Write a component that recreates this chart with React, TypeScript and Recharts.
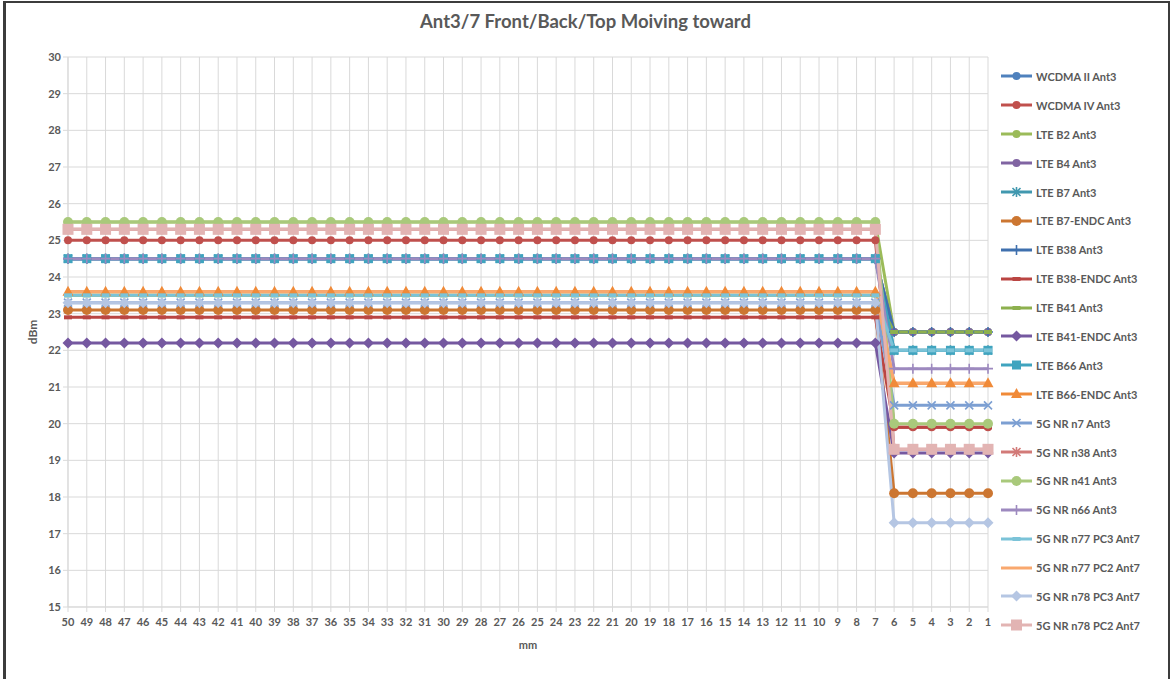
import { LineChart, Line, XAxis, YAxis, CartesianGrid } from "recharts";

const categories = [
  "50", "49", "48", "47", "46", "45", "44", "43", "42", "41", "40", "39", "38", "37", "36", "35", "34",
  "33", "32", "31", "30", "29", "28", "27", "26", "25", "24", "23", "22", "21", "20", "19", "18", "17",
  "16", "15", "14", "13", "12", "11", "10", "9", "8", "7", "6", "5", "4", "3", "2", "1",
];
const yTicks = [15, 16, 17, 18, 19, 20, 21, 22, 23, 24, 25, 26, 27, 28, 29, 30];

// values per mm position, 50 -> 1
const wcdmaII = [24.5, 24.5, 24.5, 24.5, 24.5, 24.5, 24.5, 24.5, 24.5, 24.5, 24.5, 24.5, 24.5, 24.5, 24.5, 24.5, 24.5, 24.5, 24.5, 24.5, 24.5, 24.5, 24.5, 24.5, 24.5, 24.5, 24.5, 24.5, 24.5, 24.5, 24.5, 24.5, 24.5, 24.5, 24.5, 24.5, 24.5, 24.5, 24.5, 24.5, 24.5, 24.5, 24.5, 24.5, 22.5, 22.5, 22.5, 22.5, 22.5, 22.5];
const wcdmaIV = [25, 25, 25, 25, 25, 25, 25, 25, 25, 25, 25, 25, 25, 25, 25, 25, 25, 25, 25, 25, 25, 25, 25, 25, 25, 25, 25, 25, 25, 25, 25, 25, 25, 25, 25, 25, 25, 25, 25, 25, 25, 25, 25, 25, 19.9, 19.9, 19.9, 19.9, 19.9, 19.9];
const lteB2 = [25.5, 25.5, 25.5, 25.5, 25.5, 25.5, 25.5, 25.5, 25.5, 25.5, 25.5, 25.5, 25.5, 25.5, 25.5, 25.5, 25.5, 25.5, 25.5, 25.5, 25.5, 25.5, 25.5, 25.5, 25.5, 25.5, 25.5, 25.5, 25.5, 25.5, 25.5, 25.5, 25.5, 25.5, 25.5, 25.5, 25.5, 25.5, 25.5, 25.5, 25.5, 25.5, 25.5, 25.5, 22.5, 22.5, 22.5, 22.5, 22.5, 22.5];
const lteB4 = [24.5, 24.5, 24.5, 24.5, 24.5, 24.5, 24.5, 24.5, 24.5, 24.5, 24.5, 24.5, 24.5, 24.5, 24.5, 24.5, 24.5, 24.5, 24.5, 24.5, 24.5, 24.5, 24.5, 24.5, 24.5, 24.5, 24.5, 24.5, 24.5, 24.5, 24.5, 24.5, 24.5, 24.5, 24.5, 24.5, 24.5, 24.5, 24.5, 24.5, 24.5, 24.5, 24.5, 24.5, 22.5, 22.5, 22.5, 22.5, 22.5, 22.5];
const lteB7 = [24.5, 24.5, 24.5, 24.5, 24.5, 24.5, 24.5, 24.5, 24.5, 24.5, 24.5, 24.5, 24.5, 24.5, 24.5, 24.5, 24.5, 24.5, 24.5, 24.5, 24.5, 24.5, 24.5, 24.5, 24.5, 24.5, 24.5, 24.5, 24.5, 24.5, 24.5, 24.5, 24.5, 24.5, 24.5, 24.5, 24.5, 24.5, 24.5, 24.5, 24.5, 24.5, 24.5, 24.5, 22, 22, 22, 22, 22, 22];
const lteB7Endc = [23.1, 23.1, 23.1, 23.1, 23.1, 23.1, 23.1, 23.1, 23.1, 23.1, 23.1, 23.1, 23.1, 23.1, 23.1, 23.1, 23.1, 23.1, 23.1, 23.1, 23.1, 23.1, 23.1, 23.1, 23.1, 23.1, 23.1, 23.1, 23.1, 23.1, 23.1, 23.1, 23.1, 23.1, 23.1, 23.1, 23.1, 23.1, 23.1, 23.1, 23.1, 23.1, 23.1, 23.1, 18.1, 18.1, 18.1, 18.1, 18.1, 18.1];
const lteB38 = [24.5, 24.5, 24.5, 24.5, 24.5, 24.5, 24.5, 24.5, 24.5, 24.5, 24.5, 24.5, 24.5, 24.5, 24.5, 24.5, 24.5, 24.5, 24.5, 24.5, 24.5, 24.5, 24.5, 24.5, 24.5, 24.5, 24.5, 24.5, 24.5, 24.5, 24.5, 24.5, 24.5, 24.5, 24.5, 24.5, 24.5, 24.5, 24.5, 24.5, 24.5, 24.5, 24.5, 24.5, 22.5, 22.5, 22.5, 22.5, 22.5, 22.5];
const lteB38Endc = [22.9, 22.9, 22.9, 22.9, 22.9, 22.9, 22.9, 22.9, 22.9, 22.9, 22.9, 22.9, 22.9, 22.9, 22.9, 22.9, 22.9, 22.9, 22.9, 22.9, 22.9, 22.9, 22.9, 22.9, 22.9, 22.9, 22.9, 22.9, 22.9, 22.9, 22.9, 22.9, 22.9, 22.9, 22.9, 22.9, 22.9, 22.9, 22.9, 22.9, 22.9, 22.9, 22.9, 22.9, 19.9, 19.9, 19.9, 19.9, 19.9, 19.9];
const lteB41 = [23.5, 23.5, 23.5, 23.5, 23.5, 23.5, 23.5, 23.5, 23.5, 23.5, 23.5, 23.5, 23.5, 23.5, 23.5, 23.5, 23.5, 23.5, 23.5, 23.5, 23.5, 23.5, 23.5, 23.5, 23.5, 23.5, 23.5, 23.5, 23.5, 23.5, 23.5, 23.5, 23.5, 23.5, 23.5, 23.5, 23.5, 23.5, 23.5, 23.5, 23.5, 23.5, 23.5, 23.5, 22.5, 22.5, 22.5, 22.5, 22.5, 22.5];
const lteB41Endc = [22.2, 22.2, 22.2, 22.2, 22.2, 22.2, 22.2, 22.2, 22.2, 22.2, 22.2, 22.2, 22.2, 22.2, 22.2, 22.2, 22.2, 22.2, 22.2, 22.2, 22.2, 22.2, 22.2, 22.2, 22.2, 22.2, 22.2, 22.2, 22.2, 22.2, 22.2, 22.2, 22.2, 22.2, 22.2, 22.2, 22.2, 22.2, 22.2, 22.2, 22.2, 22.2, 22.2, 22.2, 19.2, 19.2, 19.2, 19.2, 19.2, 19.2];
const lteB66 = [24.5, 24.5, 24.5, 24.5, 24.5, 24.5, 24.5, 24.5, 24.5, 24.5, 24.5, 24.5, 24.5, 24.5, 24.5, 24.5, 24.5, 24.5, 24.5, 24.5, 24.5, 24.5, 24.5, 24.5, 24.5, 24.5, 24.5, 24.5, 24.5, 24.5, 24.5, 24.5, 24.5, 24.5, 24.5, 24.5, 24.5, 24.5, 24.5, 24.5, 24.5, 24.5, 24.5, 24.5, 22, 22, 22, 22, 22, 22];
const lteB66Endc = [23.6, 23.6, 23.6, 23.6, 23.6, 23.6, 23.6, 23.6, 23.6, 23.6, 23.6, 23.6, 23.6, 23.6, 23.6, 23.6, 23.6, 23.6, 23.6, 23.6, 23.6, 23.6, 23.6, 23.6, 23.6, 23.6, 23.6, 23.6, 23.6, 23.6, 23.6, 23.6, 23.6, 23.6, 23.6, 23.6, 23.6, 23.6, 23.6, 23.6, 23.6, 23.6, 23.6, 23.6, 21.1, 21.1, 21.1, 21.1, 21.1, 21.1];
const nrN7 = [23.3, 23.3, 23.3, 23.3, 23.3, 23.3, 23.3, 23.3, 23.3, 23.3, 23.3, 23.3, 23.3, 23.3, 23.3, 23.3, 23.3, 23.3, 23.3, 23.3, 23.3, 23.3, 23.3, 23.3, 23.3, 23.3, 23.3, 23.3, 23.3, 23.3, 23.3, 23.3, 23.3, 23.3, 23.3, 23.3, 23.3, 23.3, 23.3, 23.3, 23.3, 23.3, 23.3, 23.3, 20.5, 20.5, 20.5, 20.5, 20.5, 20.5];
const nrN38 = [25.3, 25.3, 25.3, 25.3, 25.3, 25.3, 25.3, 25.3, 25.3, 25.3, 25.3, 25.3, 25.3, 25.3, 25.3, 25.3, 25.3, 25.3, 25.3, 25.3, 25.3, 25.3, 25.3, 25.3, 25.3, 25.3, 25.3, 25.3, 25.3, 25.3, 25.3, 25.3, 25.3, 25.3, 25.3, 25.3, 25.3, 25.3, 25.3, 25.3, 25.3, 25.3, 25.3, 25.3, 19.3, 19.3, 19.3, 19.3, 19.3, 19.3];
const nrN41 = [25.5, 25.5, 25.5, 25.5, 25.5, 25.5, 25.5, 25.5, 25.5, 25.5, 25.5, 25.5, 25.5, 25.5, 25.5, 25.5, 25.5, 25.5, 25.5, 25.5, 25.5, 25.5, 25.5, 25.5, 25.5, 25.5, 25.5, 25.5, 25.5, 25.5, 25.5, 25.5, 25.5, 25.5, 25.5, 25.5, 25.5, 25.5, 25.5, 25.5, 25.5, 25.5, 25.5, 25.5, 20, 20, 20, 20, 20, 20];
const nrN66 = [24.5, 24.5, 24.5, 24.5, 24.5, 24.5, 24.5, 24.5, 24.5, 24.5, 24.5, 24.5, 24.5, 24.5, 24.5, 24.5, 24.5, 24.5, 24.5, 24.5, 24.5, 24.5, 24.5, 24.5, 24.5, 24.5, 24.5, 24.5, 24.5, 24.5, 24.5, 24.5, 24.5, 24.5, 24.5, 24.5, 24.5, 24.5, 24.5, 24.5, 24.5, 24.5, 24.5, 24.5, 21.5, 21.5, 21.5, 21.5, 21.5, 21.5];
const nrN77Pc3 = [23.5, 23.5, 23.5, 23.5, 23.5, 23.5, 23.5, 23.5, 23.5, 23.5, 23.5, 23.5, 23.5, 23.5, 23.5, 23.5, 23.5, 23.5, 23.5, 23.5, 23.5, 23.5, 23.5, 23.5, 23.5, 23.5, 23.5, 23.5, 23.5, 23.5, 23.5, 23.5, 23.5, 23.5, 23.5, 23.5, 23.5, 23.5, 23.5, 23.5, 23.5, 23.5, 23.5, 23.5, 22, 22, 22, 22, 22, 22];
const nrN77Pc2 = [23.6, 23.6, 23.6, 23.6, 23.6, 23.6, 23.6, 23.6, 23.6, 23.6, 23.6, 23.6, 23.6, 23.6, 23.6, 23.6, 23.6, 23.6, 23.6, 23.6, 23.6, 23.6, 23.6, 23.6, 23.6, 23.6, 23.6, 23.6, 23.6, 23.6, 23.6, 23.6, 23.6, 23.6, 23.6, 23.6, 23.6, 23.6, 23.6, 23.6, 23.6, 23.6, 23.6, 23.6, 21.1, 21.1, 21.1, 21.1, 21.1, 21.1];
const nrN78Pc3 = [23.3, 23.3, 23.3, 23.3, 23.3, 23.3, 23.3, 23.3, 23.3, 23.3, 23.3, 23.3, 23.3, 23.3, 23.3, 23.3, 23.3, 23.3, 23.3, 23.3, 23.3, 23.3, 23.3, 23.3, 23.3, 23.3, 23.3, 23.3, 23.3, 23.3, 23.3, 23.3, 23.3, 23.3, 23.3, 23.3, 23.3, 23.3, 23.3, 23.3, 23.3, 23.3, 23.3, 23.3, 17.3, 17.3, 17.3, 17.3, 17.3, 17.3];
const nrN78Pc2 = [25.3, 25.3, 25.3, 25.3, 25.3, 25.3, 25.3, 25.3, 25.3, 25.3, 25.3, 25.3, 25.3, 25.3, 25.3, 25.3, 25.3, 25.3, 25.3, 25.3, 25.3, 25.3, 25.3, 25.3, 25.3, 25.3, 25.3, 25.3, 25.3, 25.3, 25.3, 25.3, 25.3, 25.3, 25.3, 25.3, 25.3, 25.3, 25.3, 25.3, 25.3, 25.3, 25.3, 25.3, 19.3, 19.3, 19.3, 19.3, 19.3, 19.3];

type SeriesDef = { key: string; name: string; values: number[]; color: string; shape: string };

const series: SeriesDef[] = [
  { key: "s1", name: "WCDMA II Ant3", values: wcdmaII, color: "#4F81BD", shape: "circle" },
  { key: "s2", name: "WCDMA IV Ant3", values: wcdmaIV, color: "#C0504D", shape: "circle" },
  { key: "s3", name: "LTE B2 Ant3", values: lteB2, color: "#9BBB59", shape: "circle" },
  { key: "s4", name: "LTE B4 Ant3", values: lteB4, color: "#8064A2", shape: "circle" },
  { key: "s5", name: "LTE B7 Ant3", values: lteB7, color: "#4198AF", shape: "star" },
  { key: "s6", name: "LTE B7-ENDC Ant3", values: lteB7Endc, color: "#CC7631", shape: "bigCircle" },
  { key: "s7", name: "LTE B38 Ant3", values: lteB38, color: "#3F70AE", shape: "plus" },
  { key: "s8", name: "LTE B38-ENDC Ant3", values: lteB38Endc, color: "#BA4542", shape: "dash" },
  { key: "s9", name: "LTE B41 Ant3", values: lteB41, color: "#8DB04E", shape: "dash" },
  { key: "s10", name: "LTE B41-ENDC Ant3", values: lteB41Endc, color: "#7558A0", shape: "diamond" },
  { key: "s11", name: "LTE B66 Ant3", values: lteB66, color: "#40A4BF", shape: "square" },
  { key: "s12", name: "LTE B66-ENDC Ant3", values: lteB66Endc, color: "#F08A38", shape: "triangle" },
  { key: "s13", name: "5G NR n7 Ant3", values: nrN7, color: "#7C9FD2", shape: "x" },
  { key: "s14", name: "5G NR n38 Ant3", values: nrN38, color: "#D27A78", shape: "star" },
  { key: "s15", name: "5G NR n41 Ant3", values: nrN41, color: "#A9C97B", shape: "bigCircle" },
  { key: "s16", name: "5G NR n66 Ant3", values: nrN66, color: "#9D89BF", shape: "plus" },
  { key: "s17", name: "5G NR n77 PC3 Ant7", values: nrN77Pc3, color: "#7BC3D8", shape: "dash" },
  { key: "s18", name: "5G NR n77 PC2 Ant7", values: nrN77Pc2, color: "#F9A86E", shape: "none" },
  { key: "s19", name: "5G NR n78 PC3 Ant7", values: nrN78Pc3, color: "#B5C6E3", shape: "diamond" },
  { key: "s20", name: "5G NR n78 PC2 Ant7", values: nrN78Pc2, color: "#E2B4B3", shape: "bigSquare" },
];

const data = categories.map((mm, i) => {
  const row: Record<string, string | number> = { mm };
  series.forEach((s) => {
    row[s.key] = s.values[i];
  });
  return row;
});

const FONT = "Lato, 'Liberation Sans', sans-serif";
const TEXT = "#595959";

function Marker({ shape, cx, cy, color }: { shape: string; cx: number; cy: number; color: string }) {
  if (cx == null || cy == null) return null;
  switch (shape) {
    case "circle":
      return <circle cx={cx} cy={cy} r={4} fill={color} />;
    case "bigCircle":
      return <circle cx={cx} cy={cy} r={5} fill={color} />;
    case "square":
      return <rect x={cx - 4.5} y={cy - 4.5} width={9} height={9} fill={color} />;
    case "bigSquare":
      return <rect x={cx - 5.5} y={cy - 5.5} width={11} height={11} fill={color} />;
    case "triangle":
      return <polygon points={`${cx},${cy - 6} ${cx + 5.5},${cy + 4} ${cx - 5.5},${cy + 4}`} fill={color} />;
    case "diamond":
      return <polygon points={`${cx},${cy - 5.5} ${cx + 5.5},${cy} ${cx},${cy + 5.5} ${cx - 5.5},${cy}`} fill={color} />;
    case "x":
      return (
        <path d={`M${cx - 4},${cy - 4}L${cx + 4},${cy + 4}M${cx - 4},${cy + 4}L${cx + 4},${cy - 4}`} stroke={color} strokeWidth={1.6} />
      );
    case "star":
      return (
        <path
          d={`M${cx - 4},${cy - 4}L${cx + 4},${cy + 4}M${cx - 4},${cy + 4}L${cx + 4},${cy - 4}M${cx},${cy - 5}L${cx},${cy + 5}`}
          stroke={color}
          strokeWidth={1.6}
        />
      );
    case "plus":
      return <path d={`M${cx},${cy - 5}L${cx},${cy + 5}M${cx - 5},${cy}L${cx + 5},${cy}`} stroke={color} strokeWidth={1.6} />;
    case "dash":
      return <rect x={cx - 4} y={cy - 2} width={8} height={4} fill={color} />;
    default:
      return null;
  }
}

function LegendBox() {
  return (
    <div style={{ position: "absolute", left: 1000, top: 62, fontFamily: FONT, fontSize: 11, fontWeight: 700, color: TEXT }}>
      {series.map((s) => (
        <div key={s.key} style={{ height: 28.9, display: "flex", alignItems: "center" }}>
          <svg width={34} height={14} style={{ flex: "none" }}>
            <line x1={1} y1={7} x2={32} y2={7} stroke={s.color} strokeWidth={3} />
            <Marker shape={s.shape} cx={16.5} cy={7} color={s.color} />
          </svg>
          <span style={{ marginLeft: 2, whiteSpace: "nowrap" }}>{s.name}</span>
        </div>
      ))}
    </div>
  );
}

export default function App() {
  return (
    <div style={{ position: "absolute", left: 0, top: 0, width: 1171, height: 679, background: "#fff", overflow: "hidden" }}>
      <div
        style={{
          position: "absolute",
          left: 3,
          top: 1,
          width: 1162,
          height: 700,
          border: "2px solid #3c3c3c",
          borderLeftWidth: 3,
          pointerEvents: "none",
        }}
      />
      <div
        style={{
          position: "absolute",
          left: 0,
          top: 10,
          width: 1171,
          textAlign: "center",
          fontFamily: FONT,
          fontSize: 18.5,
          fontWeight: 700,
          color: TEXT,
        }}
      >
        Ant3/7 Front/Back/Top Moiving toward
      </div>
      <div
        style={{
          position: "absolute",
          left: 32,
          top: 332,
          transform: "translate(-50%, -50%) rotate(-90deg)",
          fontFamily: FONT,
          fontSize: 12,
          fontWeight: 700,
          color: TEXT,
        }}
      >
        dBm
      </div>
      <div style={{ position: "absolute", left: 0, top: 0 }}>
        <LineChart width={1171} height={679} data={data} margin={{ top: 57, right: 183, bottom: 42, left: 38 }}>
          <CartesianGrid stroke="#D9D9D9" strokeWidth={1} />
          <XAxis
            dataKey="mm"
            interval={0}
            height={30}
            tick={{ fontSize: 11, fill: TEXT, fontFamily: FONT, fontWeight: 700 }}
            tickSize={5}
            tickMargin={6}
            stroke="#D9D9D9"
            label={{ value: "mm", position: "bottom", offset: 4, fontSize: 11, fill: TEXT, fontFamily: FONT, fontWeight: 700 }}
          />
          <YAxis
            domain={[15, 30]}
            ticks={yTicks}
            interval={0}
            width={30}
            tick={{ fontSize: 11, fill: TEXT, fontFamily: FONT, fontWeight: 700 }}
            tickSize={5}
            tickMargin={2}
            axisLine={false}
            tickLine={{ stroke: "#D9D9D9" }}
          />
          {series.map((s) => (
            <Line
              key={s.key}
              type="linear"
              dataKey={s.key}
              name={s.name}
              stroke={s.color}
              strokeWidth={3}
              isAnimationActive={false}
              activeDot={false}
              dot={(p: any) => <Marker key={`${s.key}-${p.index}`} shape={s.shape} cx={p.cx} cy={p.cy} color={s.color} />}
            />
          ))}
        </LineChart>
      </div>
      <LegendBox />
    </div>
  );
}
